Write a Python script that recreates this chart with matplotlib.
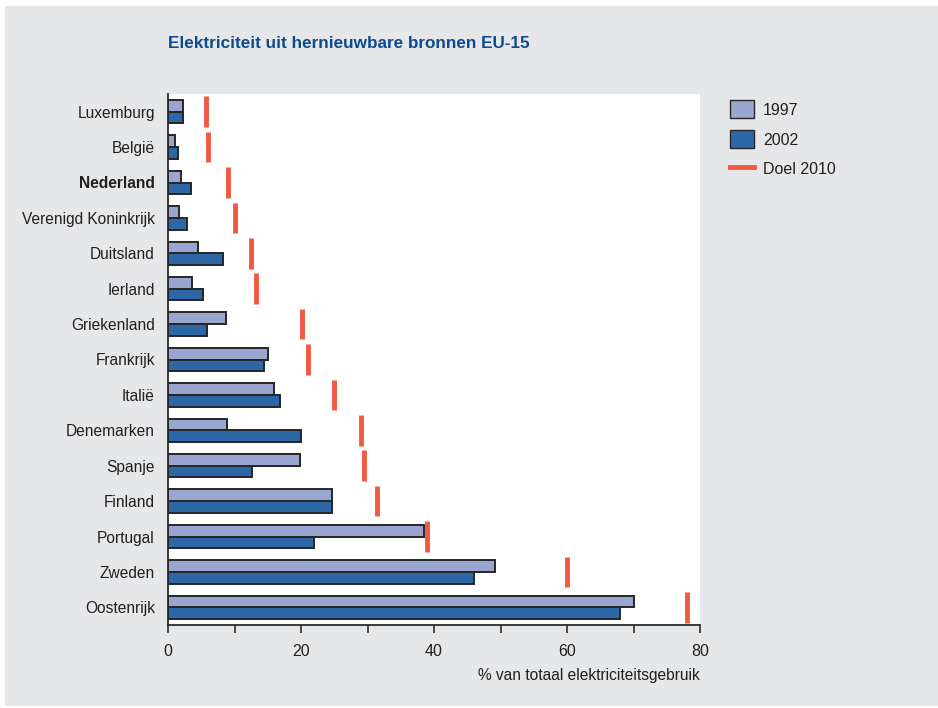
import matplotlib
matplotlib.use("Agg")
import matplotlib.pyplot as plt
from matplotlib.patches import Rectangle, Patch
from matplotlib.lines import Line2D
import numpy as np

countries = ["Luxemburg", "België", "Nederland", "Verenigd Koninkrijk", "Duitsland",
             "Ierland", "Griekenland", "Frankrijk", "Italië", "Denemarken",
             "Spanje", "Finland", "Portugal", "Zweden", "Oostenrijk"]
share_1997 = [2.2, 1.1, 1.9, 1.7, 4.5, 3.6, 8.7, 15.0, 16.0, 8.8, 19.9, 24.7, 38.5, 49.1, 70.0]
share_2002 = [2.3, 1.5, 3.5, 2.9, 8.2, 5.2, 5.8, 14.4, 16.8, 20.0, 12.7, 24.7, 21.9, 46.0, 68.0]
target_2010 = [5.7, 6.0, 9.0, 10.0, 12.5, 13.2, 20.1, 21.0, 25.0, 29.0, 29.4, 31.5, 39.0, 60.0, 78.0]

x_ticks = [0, 20, 40, 60, 80]
x_minor = [10, 30, 50, 70]

c1997 = "#98a6d0"
c2002 = "#2d67a8"
ctarget = "#f25a40"
bg = "#e6e7e8"
edge = "#262626"
txt = "#231f20"
plt.rcParams["font.family"] = ["Liberation Sans", "DejaVu Sans"]

fig = plt.figure(figsize=(9.38, 7.08), dpi=100)
fig.patch.set_facecolor("white")
fig.add_artist(Rectangle((5 / 938, 2 / 708), 933 / 938, 700 / 708,
                         transform=fig.transFigure, facecolor=bg,
                         edgecolor="none", zorder=-10))

ax = fig.add_axes([168 / 938, 1 - 625 / 708, 532 / 938, 531 / 708])
ax.set_facecolor("white")

y = np.arange(len(countries))
h = 0.33
ax.barh(y - h / 2, share_1997, height=h, color=c1997, edgecolor=edge,
        linewidth=1.4, label="1997", zorder=3)
ax.barh(y + h / 2, share_2002, height=h, color=c2002, edgecolor=edge,
        linewidth=1.4, label="2002", zorder=3)
ax.vlines(target_2010, y - 0.43, y + 0.43, color=ctarget, linewidth=3.5,
          zorder=4)

ax.set_xlim(0, 80)
ax.set_ylim(len(countries) - 0.5, -0.5)
ax.set_yticks(y)
ax.set_yticklabels(countries, fontsize=11.2, color=txt)
for lab in ax.get_yticklabels():
    if lab.get_text() == "Nederland":
        lab.set_fontweight("bold")
ax.tick_params(axis="y", length=0, pad=9.5)
ax.set_xticks(x_ticks)
ax.set_xticks(x_minor, minor=True)
ax.set_xticklabels([str(v) for v in x_ticks], fontsize=11.5, color=txt)
ax.tick_params(axis="x", which="both", direction="out", length=6,
               width=1.3, color="#3a3a3a", pad=8)

for side in ("top", "right"):
    ax.spines[side].set_visible(False)
for side in ("left", "bottom"):
    ax.spines[side].set_color("#2a2a2a")
    ax.spines[side].set_linewidth(1.3)

ax.set_xlabel("% van totaal elektriciteitsgebruik", fontsize=11.2,
              color=txt, loc="right", labelpad=6)

fig.text(168 / 938, 1 - 44 / 708, "Elektriciteit uit hernieuwbare bronnen EU-15",
         fontsize=12.3, fontweight="bold", color="#0d4a8f", va="center",
         ha="left")

handles = [Patch(facecolor=c1997, edgecolor=edge, linewidth=1.0),
           Patch(facecolor=c2002, edgecolor=edge, linewidth=1.0),
           Line2D([0], [0], color=ctarget, linewidth=3.5)]
leg = fig.legend(handles, ["1997", "2002", "Doel 2010"],
                 loc="upper left", bbox_to_anchor=(716 / 938, 1 - 86 / 708),
                 frameon=False, fontsize=11.5, handlelength=1.5,
                 handleheight=1.35, labelspacing=0.75, handletextpad=0.55)
for t in leg.get_texts():
    t.set_color(txt)

fig.savefig("out.png", dpi=100, facecolor=fig.get_facecolor())
